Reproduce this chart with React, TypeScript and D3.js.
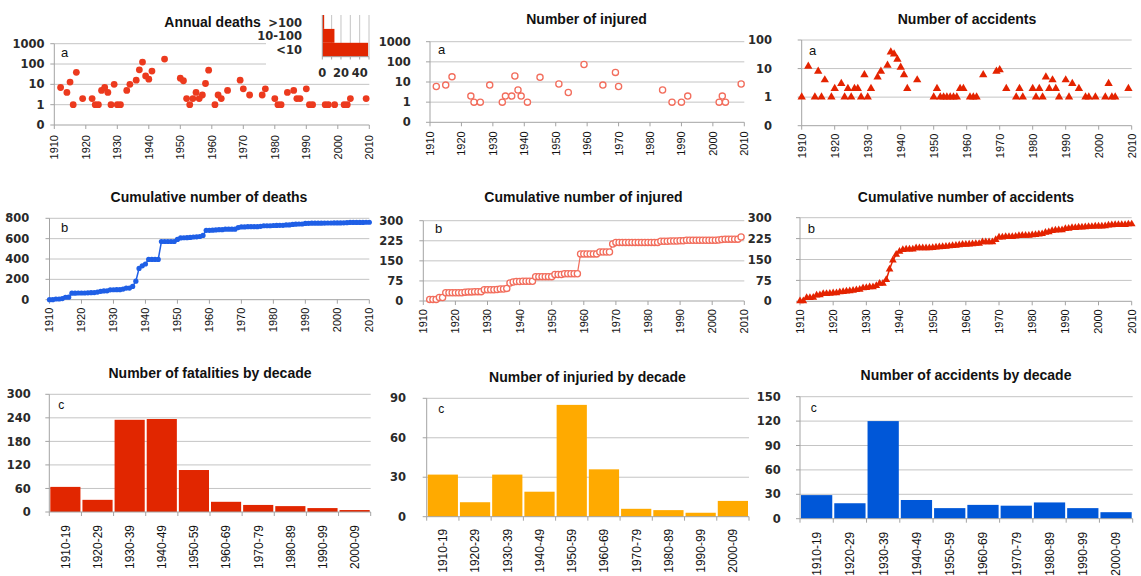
import React from 'react';
import * as d3 from 'd3';

// ---------- DATA ----------
const deathYears = [1912,1914,1915,1916,1917,1919,1922,1923,1924,1925,1926,1927,1928,1929,1930,1931,1933,1934,1936,1937,1938,1939,1940,1941,1945,1950,1951,1952,1953,1954,1955,1956,1957,1958,1959,1961,1962,1963,1965,1969,1970,1972,1976,1977,1980,1981,1982,1984,1986,1987,1988,1990,1991,1992,1996,1997,1999,2002,2003,2004,2009];
const deathValues = [7,4,13,1,39,2,2,1,1,5,7,4,1,10,1,1,5,10,16,52,125,26,18,45,176,20,15,2,1,2,4,2,3,11,50,1,3,2,5,16,6,3,3,6,2,1,1,4,5,2,2,6,1,1,1,1,1,1,1,2,2];

const injuredYears = [1912,1915,1917,1923,1924,1926,1929,1933,1934,1936,1937,1938,1939,1941,1945,1951,1954,1959,1965,1969,1970,1984,1987,1990,1992,2002,2003,2004,2009];
const injuredValues = [6,7,18,2,1,1,7,1,2,2,20,4,2,1,17,8,3,74,7,30,6,4,1,1,2,1,2,1,8];

const accidentYears = [1910,1912,1914,1915,1916,1917,1919,1920,1922,1923,1924,1925,1926,1927,1928,1929,1930,1931,1933,1934,1936,1937,1938,1939,1940,1941,1942,1945,1950,1951,1952,1953,1954,1955,1956,1957,1958,1959,1961,1962,1963,1965,1969,1970,1972,1975,1976,1977,1980,1981,1982,1983,1984,1985,1986,1987,1988,1990,1991,1992,1994,1996,1997,1999,2002,2003,2004,2005,2009];
const accidentValues = [1,12,1,8,1,4,1,2,3,1,2,1,2,2,1,6,1,2,5,8,13,38,32,21,11,6,2,4,1,2,1,1,1,1,1,1,2,2,1,1,1,6,8,9,2,1,2,1,2,1,2,1,5,2,4,2,1,4,1,3,2,1,1,1,1,3,1,1,2];

const decades = ["1910-19","1920-29","1930-39","1940-49","1950-59","1960-69","1970-79","1980-89","1990-99","2000-09"];
const fatalitiesByDecade = [64,31,235,237,107,26,18,15,10,5];
const injuredByDecade = [32,11,32,19,85,36,6,5,3,12];
const accidentsByDecade = [29,19,120,23,13,17,16,20,13,8];

const insetCategories = [">100","10-100","<10"];
const insetCounts = [2,13,49];
const insetTicks = [0,10,20,30,40,50];
const insetTickLabels = ["0","","20","","40",""];

const yearTicks = [1910,1920,1930,1940,1950,1960,1970,1980,1990,2000,2010];
const logTickValues = [0.1,1,10,100,1000];
const logTickLabels = ["0","1","10","100","1000"];
const cumDeathTicks = [0,200,400,600,800];
const cumInjuredTicks = [0,75,150,225,300];
const cumAccidentTicks = [0,75,150,225,300];
const fatalTicks = [0,60,120,180,240,300];
const injDecTicks = [0,30,60,90];
const accDecTicks = [0,30,60,90,120,150];

// ---------- STYLE ----------
const GRID = '#c4c4c4';
const AXIS = '#a3a3a3';
const TEXT = '#1e1e1e';
const NUM_FONT = "'DejaVu Sans', sans-serif";
const SANS = "'Liberation Sans', Arial, sans-serif";
const RED = '#ec3a1e';
const SALMON = '#f26d5c';
const TRI_RED = '#e42300';
const BLUE = '#1f5fe6';
const ORANGE = '#ffaa00';
const BAR_BLUE = '#0057d8';
const BAR_RED = '#e12600';

function cumulative(years: number[], values: number[], start: number, end: number) {
  const m = new Map<number, number>();
  years.forEach((y, i) => m.set(y, values[i]));
  let s = 0;
  return d3.range(start, end + 1).map((y) => {
    s += m.get(y) || 0;
    return { year: y, value: s };
  });
}

function Marker({ kind, x, y, color }: { kind: string; x: number; y: number; color: string }) {
  if (kind === 'dot') return <circle cx={x} cy={y} r={3.4} fill={color} />;
  if (kind === 'smalldot') return <circle cx={x} cy={y} r={2.6} fill={color} />;
  if (kind === 'ring') return <circle cx={x} cy={y} r={3.1} fill="#fff" stroke={color} strokeWidth={1.3} />;
  if (kind === 'tri' || kind === 'smalltri') {
    const path = d3.symbol().type(d3.symbolTriangle).size(kind === 'tri' ? 30 : 26)() as string;
    return <path d={path} transform={`translate(${x},${y})`} fill={color} />;
  }
  return null;
}

function Title({ text, x, y }: { text: string; x: number; y: number }) {
  return (
    <text x={x} y={y} textAnchor="middle" fontFamily={SANS} fontWeight="bold" fontSize={14} fill="#111">
      {text}
    </text>
  );
}

function Letter({ text, x, y, size = 13 }: { text: string; x: number; y: number; size?: number }) {
  return (
    <text x={x} y={y} fontFamily={SANS} fontSize={size} fill="#111">
      {text}
    </text>
  );
}

function NumLabel({ x, y, anchor, children }: any) {
  return (
    <text x={x} y={y} dy="0.36em" textAnchor={anchor} fontFamily={NUM_FONT} fontWeight="bold" fontSize={11.5} fill="#2a2a2a">
      {children}
    </text>
  );
}

function YearAxis({ x, yAxis, gap }: { x: d3.ScaleLinear<number, number>; yAxis: number; gap: number }) {
  return (
    <g>
      {yearTicks.map((t) => (
        <line key={'t' + t} x1={x(t)} x2={x(t)} y1={yAxis} y2={yAxis + 4} stroke={AXIS} />
      ))}
      {yearTicks.map((t) => (
        <text
          key={'l' + t}
          transform={`translate(${x(t)},${yAxis + gap}) rotate(-90)`}
          textAnchor="end"
          dy="0.36em"
          fontFamily={SANS}
          fontSize={11}
          fill="#111"
        >
          {t}
        </text>
      ))}
    </g>
  );
}

function LinearYAxis({ y, ticks, x0, x1, labelRight }: any) {
  return (
    <g>
      {ticks.slice(1).map((v: number) => (
        <line key={'g' + v} x1={x0} x2={x1} y1={y(v)} y2={y(v)} stroke={GRID} />
      ))}
      {ticks.map((v: number) => (
        <line key={'k' + v} x1={x0 - 4} x2={x0} y1={y(v)} y2={y(v)} stroke={AXIS} />
      ))}
      {ticks.map((v: number) => (
        <NumLabel key={'l' + v} x={labelRight} y={y(v)} anchor="end">
          {v}
        </NumLabel>
      ))}
    </g>
  );
}

function LogPanel(p: any) {
  const x = d3.scaleLinear().domain([1910, 2010]).range([p.x0, p.x1]);
  const y = d3.scaleLog().domain([0.1, p.maxVal]).range([p.yBot, p.yTop]);
  const idx = logTickValues.map((v, i) => i).filter((i) => logTickValues[i] <= p.maxVal);
  return (
    <g>
      {idx.slice(1).map((i) => (
        <line key={'g' + i} x1={p.x0} x2={p.x1} y1={y(logTickValues[i])} y2={y(logTickValues[i])} stroke={GRID} />
      ))}
      {idx.map((i) => (
        <line key={'k' + i} x1={p.x0 - 4} x2={p.x0} y1={y(logTickValues[i])} y2={y(logTickValues[i])} stroke={AXIS} />
      ))}
      <line x1={p.x0} x2={p.x0} y1={p.yTop} y2={p.yBot} stroke={AXIS} />
      <line x1={p.x0} x2={p.x1} y1={p.yBot} y2={p.yBot} stroke={AXIS} />
      {idx.map((i) => (
        <NumLabel key={'l' + i} x={p.labelRight} y={y(logTickValues[i])} anchor="end">
          {logTickLabels[i]}
        </NumLabel>
      ))}
      <YearAxis x={x} yAxis={p.yBot} gap={p.gap} />
      {p.years.map((yr: number, i: number) => (
        <Marker key={'m' + i} kind={p.marker} x={x(yr)} y={y(p.values[i])} color={p.color} />
      ))}
      <Letter text="a" x={p.letterX} y={p.letterY} />
      <Title text={p.title} x={p.titleX} y={p.titleY} />
    </g>
  );
}

function CumPanel(p: any) {
  const x = d3.scaleLinear().domain([1910, 2010]).range([p.x0, p.x1]);
  const y = d3.scaleLinear().domain([0, p.ticks[p.ticks.length - 1]]).range([p.yBot, p.yTop]);
  const line = d3.line<any>().x((d) => x(d.year)).y((d) => y(d.value));
  return (
    <g>
      <LinearYAxis y={y} ticks={p.ticks} x0={p.x0} x1={p.x1} labelRight={p.labelRight} />
      <line x1={p.x0} x2={p.x0} y1={p.yTop} y2={p.yBot} stroke={AXIS} />
      <line x1={p.x0} x2={p.x1} y1={p.yBot} y2={p.yBot} stroke={AXIS} />
      <YearAxis x={x} yAxis={p.yBot} gap={p.gap} />
      <path d={line(p.data) as string} fill="none" stroke={p.color} strokeWidth={p.lineWidth} />
      {p.data.map((d: any, i: number) => (
        <Marker key={'m' + i} kind={p.marker} x={x(d.year)} y={y(d.value)} color={p.color} />
      ))}
      <Letter text="b" x={p.letterX} y={p.letterY} />
      <Title text={p.title} x={p.titleX} y={p.titleY} />
    </g>
  );
}

function BarPanel(p: any) {
  const x = d3.scaleBand<string>().domain(decades).range([p.x0, p.x1]).padding(0);
  const y = d3.scaleLinear().domain([0, p.ticks[p.ticks.length - 1]]).range([p.yBot, p.yTop]);
  const bw = x.bandwidth();
  const bounds = decades.map((d) => x(d) as number).concat([p.x1]);
  return (
    <g>
      <LinearYAxis y={y} ticks={p.ticks} x0={p.x0} x1={p.x1} labelRight={p.labelRight} />
      {decades.map((d, i) => (
        <rect key={'b' + d} x={(x(d) as number) + 1} width={bw - 2} y={y(p.values[i])} height={p.yBot - y(p.values[i])} fill={p.color} />
      ))}
      <line x1={p.x0} x2={p.x0} y1={p.yTop} y2={p.yBot} stroke={AXIS} />
      <line x1={p.x0} x2={p.x1} y1={p.yBot} y2={p.yBot} stroke={AXIS} />
      {bounds.map((b, i) => (
        <line key={'t' + i} x1={b} x2={b} y1={p.yBot} y2={p.yBot + 4} stroke={AXIS} />
      ))}
      {decades.map((d) => (
        <text
          key={'l' + d}
          transform={`translate(${(x(d) as number) + bw / 2},${p.yBot + p.gap}) rotate(-90)`}
          textAnchor="end"
          dy="0.36em"
          fontFamily={SANS}
          fontSize={12}
          fill="#111"
        >
          {d}
        </text>
      ))}
      <Letter text="c" x={p.letterX} y={p.letterY} size={12} />
      <Title text={p.title} x={p.titleX} y={p.titleY} />
    </g>
  );
}

function Inset() {
  const x = d3.scaleLinear().domain([0, 50]).range([322.3, 369]);
  const y = d3.scaleBand<string>().domain(insetCategories).range([15, 56.7]).padding(0);
  return (
    <g>
      <rect x={266} y={6} width={110} height={74} fill="#fff" />
      {insetTicks.slice(1).map((t) => (
        <line key={'g' + t} x1={x(t)} x2={x(t)} y1={15} y2={56.7} stroke={GRID} />
      ))}
      {insetCategories.map((c, i) => (
        <rect key={c} x={x(0)} y={y(c) as number} width={x(insetCounts[i]) - x(0)} height={y.bandwidth()} fill={BAR_RED} />
      ))}
      <line x1={x(0)} x2={x(0)} y1={15} y2={56.7} stroke={AXIS} />
      <line x1={x(0)} x2={x(50)} y1={56.7} y2={56.7} stroke={AXIS} />
      {insetTicks.map((t) => (
        <line key={'k' + t} x1={x(t)} x2={x(t)} y1={56.7} y2={59.5} stroke={AXIS} />
      ))}
      {insetTicks.map((t, i) =>
        insetTickLabels[i] ? (
          <NumLabel key={'l' + t} x={x(t)} y={73} anchor="middle">
            {insetTickLabels[i]}
          </NumLabel>
        ) : null
      )}
      {insetCategories.map((c) => (
        <NumLabel key={'c' + c} x={302} y={(y(c) as number) + y.bandwidth() / 2 + 0.5} anchor="end">
          {c}
        </NumLabel>
      ))}
    </g>
  );
}

export default function App() {
  const cumDeaths = cumulative(deathYears, deathValues, 1910, 2010);
  const cumInjured = cumulative(injuredYears, injuredValues, 1912, 2009);
  const cumAccidents = cumulative(accidentYears, accidentValues, 1910, 2010);
  return (
    <svg
      width={1141}
      height={576}
      viewBox="0 0 1141 576"
      style={{ position: 'absolute', left: 0, top: 0, background: '#fff' }}
    >
      <rect x={0} y={0} width={1141} height={576} fill="#fff" />
      {/* Row a */}
      <LogPanel x0={54.3} x1={369.3} yTop={43.7} yBot={125} maxVal={1000} labelRight={44.5} gap={10}
        years={deathYears} values={deathValues} marker="dot" color={RED}
        title="Annual deaths" titleX={212.5} titleY={27.3} letterX={61} letterY={56.7} />
      <Inset />
      <LogPanel x0={430} x1={744.3} yTop={41.7} yBot={122.3} maxVal={1000} labelRight={410.7} gap={9}
        years={injuredYears} values={injuredValues} marker="ring" color={SALMON}
        title="Number of injured" titleX={586.5} titleY={24} letterX={438} letterY={54.3} />
      <LogPanel x0={801.7} x1={1131.7} yTop={40} yBot={125.7} maxVal={100} labelRight={772} gap={8}
        years={accidentYears} values={accidentValues} marker="tri" color={TRI_RED}
        title="Number of accidents" titleX={967} titleY={24} letterX={809} letterY={55} />

      {/* Row b */}
      <CumPanel x0={49.5} x1={369.3} yTop={218.3} yBot={299.7} ticks={cumDeathTicks} labelRight={29.3} gap={8}
        data={cumDeaths} marker="smalldot" color={BLUE} lineWidth={1.5}
        title="Cumulative number of deaths" titleX={209} titleY={201.7} letterX={61} letterY={232.3} />
      <CumPanel x0={423.3} x1={744.3} yTop={220.7} yBot={301} ticks={cumInjuredTicks} labelRight={403.3} gap={8}
        data={cumInjured} marker="ring" color={SALMON} lineWidth={1.2}
        title="Cumulative number of injured" titleX={583.5} titleY={202.3} letterX={435} letterY={233.3} />
      <CumPanel x0={800} x1={1131.7} yTop={217.7} yBot={301.3} ticks={cumAccidentTicks} labelRight={771.7} gap={8}
        data={cumAccidents} marker="smalltri" color={TRI_RED} lineWidth={1.5}
        title="Cumulative number of accidents" titleX={966} titleY={201.7} letterX={807.7} letterY={233.3} />

      {/* Row c */}
      <BarPanel x0={49.3} x1={370.7} yTop={394.3} yBot={512} ticks={fatalTicks} labelRight={30.7} gap={13}
        values={fatalitiesByDecade} color={BAR_RED}
        title="Number of fatalities by decade" titleX={210} titleY={377.7} letterX={58.3} letterY={409.3} />
      <BarPanel x0={426.7} x1={749} yTop={398.3} yBot={516.7} ticks={injDecTicks} labelRight={406} gap={12}
        values={injuredByDecade} color={ORANGE}
        title="Number of injuried by decade" titleX={587.5} titleY={381.7} letterX={438.3} letterY={413.3} />
      <BarPanel x0={800} x1={1132.7} yTop={396.7} yBot={518.7} ticks={accDecTicks} labelRight={780.7} gap={13}
        values={accidentsByDecade} color={BAR_BLUE}
        title="Number of accidents by decade" titleX={966} titleY={380} letterX={810.7} letterY={412.3} />
    </svg>
  );
}
